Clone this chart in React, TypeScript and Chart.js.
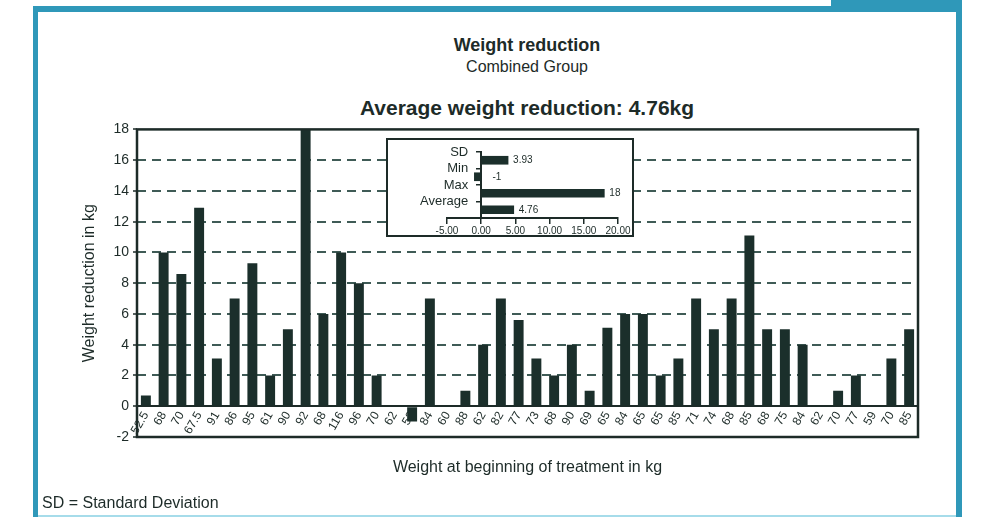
import React, { useEffect, useRef } from "react";
import { Chart, registerables } from "chart.js";

Chart.register(...registerables);

// ---------- data ----------
const categories = [
  "52.5", "68", "70", "67.5", "91", "86", "95", "61", "90", "92",
  "68", "116", "96", "70", "62", "52", "84", "60", "88", "62",
  "82", "77", "73", "68", "90", "69", "65", "84", "65", "65",
  "85", "71", "74", "68", "85", "68", "75", "84", "62", "70",
  "77", "59", "70", "85",
];
const reduction = [
  0.7, 10, 8.6, 12.9, 3.1, 7, 9.3, 2, 5, 18,
  6, 10, 8, 2, 0, -1, 7, 0, 1, 4,
  7, 5.6, 3.1, 2, 4, 1, 5.1, 6, 6, 2,
  3.1, 7, 5, 7, 11.1, 5, 5, 4, 0, 1,
  2, 0, 3.1, 5,
];
const yMin = -2;
const yMax = 18;
const yStep = 2;

const statLabels = ["SD", "Min", "Max", "Average"];
const statValues = [3.93, -1, 18, 4.76];
const statMin = -5;
const statMax = 20;
const statStep = 5;

// ---------- style ----------
const FONT = "'Liberation Sans', Arial, Helvetica, sans-serif";
const DARK = "#1d2b28";
const BAR = "#1b2f2b";
const GRID = "#3f5b56";
const BLUE = "#2f98b9";

Chart.defaults.font.family = FONT;
Chart.defaults.color = DARK;

const framePlugin = {
  id: "frame",
  afterDatasetsDraw(chart: any) {
    const { ctx, chartArea } = chart;
    ctx.save();
    ctx.strokeStyle = DARK;
    ctx.lineWidth = 2.5;
    ctx.strokeRect(chartArea.left, chartArea.top, chartArea.right - chartArea.left, chartArea.bottom - chartArea.top);
    ctx.restore();
  },
};

const valueLabels = {
  id: "valueLabels",
  afterDatasetsDraw(chart: any) {
    const ctx = chart.ctx;
    const meta = chart.getDatasetMeta(0);
    const data = chart.data.datasets[0].data as number[];
    ctx.save();
    ctx.font = `10px ${FONT}`;
    ctx.fillStyle = DARK;
    ctx.textBaseline = "middle";
    ctx.textAlign = "left";
    meta.data.forEach((bar: any, i: number) => {
      const v = data[i];
      const { x, base, y } = bar.getProps(["x", "base", "y"], true);
      const end = Math.max(x, base);
      ctx.fillText(String(v), end + (v < 0 ? 12 : 5), y);
    });
    ctx.restore();
  },
};

export default function App() {
  const mainRef = useRef<HTMLCanvasElement>(null);
  const insetRef = useRef<HTMLCanvasElement>(null);

  useEffect(() => {
    const main = new Chart(mainRef.current!, {
      type: "bar",
      data: {
        labels: categories,
        datasets: [
          {
            data: reduction,
            backgroundColor: BAR,
            barPercentage: 0.56,
            categoryPercentage: 1,
          },
        ],
      },
      options: {
        animation: false,
        responsive: false,
        maintainAspectRatio: false,
        layout: { padding: { top: 10, right: 10, left: 0, bottom: 75 } },
        plugins: { legend: { display: false }, tooltip: { enabled: false } },
        scales: {
          x: {
            position: { y: 0 } as any,
            grid: { drawOnChartArea: false, drawTicks: false },
            border: { display: true, color: DARK, width: 2 },
            ticks: {
              autoSkip: false,
              minRotation: 60,
              maxRotation: 60,
              padding: 3,
              font: { size: 12 },
              color: DARK,
            },
            title: {
              display: true,
              text: "Weight at beginning of treatment in kg",
              font: { size: 16 },
              color: DARK,
              padding: { top: 0, bottom: 4 },
            },
            afterFit: (s: any) => {
              s.height = 75;
            },
          },
          y: {
            min: yMin,
            max: yMax,
            ticks: { stepSize: yStep, font: { size: 14 }, color: DARK, padding: 4 },
            grid: {
              color: (c: any) =>
                c.tick && (c.tick.value === yMax || c.tick.value === yMin || c.tick.value === 0)
                  ? "rgba(0,0,0,0)"
                  : GRID,
              lineWidth: 2,
              drawTicks: true,
              tickLength: 4,
              tickColor: DARK,
              tickWidth: 1.5,
            },
            border: { display: false, dash: [9, 6] },
            title: {
              display: true,
              text: "Weight reduction in kg",
              font: { size: 16 },
              color: DARK,
              padding: { top: 40, bottom: 0 },
            },
            afterFit: (s: any) => {
              s.width = 97;
            },
          },
        },
      },
      plugins: [framePlugin],
    });

    const inset = new Chart(insetRef.current!, {
      type: "bar",
      data: {
        labels: statLabels,
        datasets: [{ data: statValues, backgroundColor: BAR, barThickness: 8, yAxisID: "y" }],
      },
      options: {
        indexAxis: "y",
        animation: false,
        responsive: false,
        maintainAspectRatio: false,
        layout: { padding: { left: 59, right: 14, top: 12, bottom: 0 } },
        plugins: { legend: { display: false }, tooltip: { enabled: false } },
        scales: {
          x: {
            min: statMin,
            max: statMax,
            ticks: {
              stepSize: statStep,
              callback: (v: any) => Number(v).toFixed(2),
              font: { size: 10 },
              color: DARK,
              padding: 1,
              maxRotation: 0,
            },
            grid: { drawOnChartArea: false, tickLength: 6, color: DARK, lineWidth: 1.5 },
            border: { color: DARK, width: 2 },
            afterFit: (s: any) => {
              s.height = 17;
            },
          },
          y: {
            type: "category",
            position: { x: 0 } as any,
            offset: true,
            ticks: { display: false },
            grid: { drawOnChartArea: false, offset: true, tickLength: 4, color: DARK, lineWidth: 1.5 },
            border: { color: DARK, width: 2 },
            afterFit: (s: any) => {
              s.width = 0;
            },
          },
          yLabels: {
            type: "category",
            axis: "y",
            position: { x: -1.9 } as any,
            offset: true,
            ticks: { autoSkip: false, font: { size: 13 }, color: DARK, labelOffset: -8 },
            grid: { display: false, offset: true },
            border: { display: false },
            afterFit: (s: any) => {
              s.width = 0;
            },
          },
        },
      },
      plugins: [valueLabels],
    });

    return () => {
      main.destroy();
      inset.destroy();
    };
  }, []);

  const text: React.CSSProperties = {
    position: "absolute",
    left: 227,
    width: 600,
    textAlign: "center",
    fontFamily: FONT,
    color: DARK,
    whiteSpace: "nowrap",
  };

  return (
    <div
      style={{
        position: "absolute",
        left: 0,
        top: 0,
        width: 984,
        height: 517,
        background: "#ffffff",
        overflow: "hidden",
      }}
    >
      <div
        style={{
          position: "absolute",
          left: 33,
          top: 6,
          width: 929,
          height: 530,
          boxSizing: "border-box",
          borderTop: `6px solid ${BLUE}`,
          borderLeft: `5px solid ${BLUE}`,
          borderRight: `6px solid ${BLUE}`,
        }}
      />
      <div style={{ position: "absolute", left: 831, top: 0, width: 131, height: 8, background: BLUE }} />
      <div style={{ position: "absolute", left: 38, top: 515, width: 918, height: 2, background: "#a6dcea" }} />

      <div style={{ ...text, top: 35, fontSize: 18, fontWeight: "bold", lineHeight: "20px" }}>Weight reduction</div>
      <div style={{ ...text, top: 57, fontSize: 16, lineHeight: "20px" }}>Combined Group</div>
      <div style={{ ...text, top: 96, fontSize: 21, fontWeight: "bold", lineHeight: "24px" }}>
        Average weight reduction: 4.76kg
      </div>

      <canvas
        ref={mainRef}
        width={888}
        height={395}
        style={{ position: "absolute", left: 40, top: 117, width: 888, height: 395 }}
      />

      <div
        style={{
          position: "absolute",
          left: 386,
          top: 138,
          width: 248,
          height: 99,
          boxSizing: "border-box",
          border: `2px solid ${DARK}`,
          background: "#ffffff",
        }}
      >
        <canvas
          ref={insetRef}
          width={244}
          height={95}
          style={{ position: "absolute", left: 0, top: 0, width: 244, height: 95 }}
        />
      </div>

      <div
        style={{
          position: "absolute",
          left: 42,
          top: 493,
          fontSize: 16,
          lineHeight: "20px",
          fontFamily: FONT,
          color: DARK,
          whiteSpace: "nowrap",
        }}
      >
        SD = Standard Deviation
      </div>
    </div>
  );
}
